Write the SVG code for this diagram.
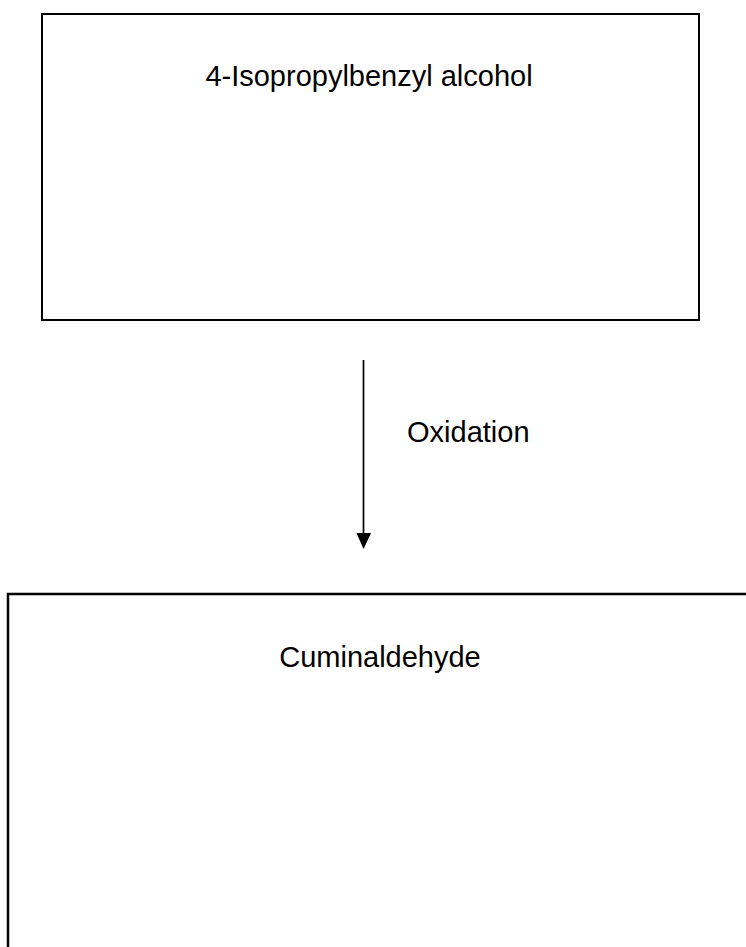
<svg xmlns="http://www.w3.org/2000/svg" width="746" height="947" viewBox="0 0 746 947">
<style>
.box{fill:#fff;stroke:#000;stroke-width:2}
.lbl{font-family:"Liberation Sans",Arial,sans-serif;font-size:29px;fill:#000}
</style>
<rect width="746" height="947" fill="#fff"/>
<g id="node-alcohol">
<rect class="box" x="42" y="14" width="657" height="306"/>
<text class="lbl" x="369" y="86" text-anchor="middle">4-Isopropylbenzyl alcohol</text>
</g>
<g id="node-aldehyde">
<rect class="box" x="8" y="594" width="760" height="380" style="stroke-width:2.5"/>
<text class="lbl" x="380" y="667" text-anchor="middle">Cuminaldehyde</text>
</g>
<g id="connectors">
<line x1="363.5" y1="360" x2="363.5" y2="540" stroke="#000" stroke-width="1.7"/>
<path d="M356.5,533 L371,533 L363.5,549 Z" fill="#000"/>
<text class="lbl" x="407" y="442">Oxidation</text>
</g>
</svg>
